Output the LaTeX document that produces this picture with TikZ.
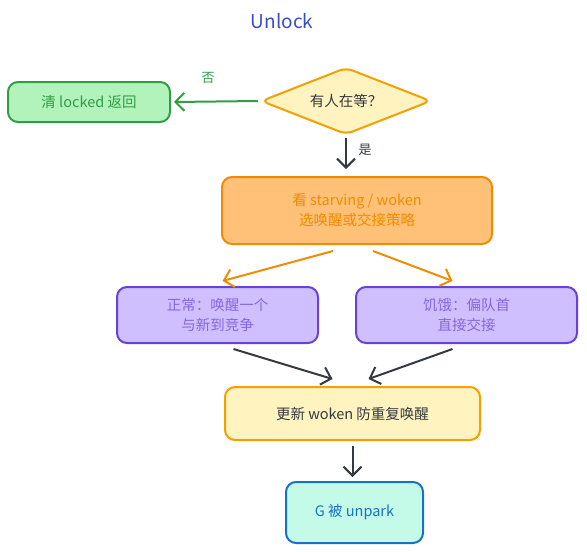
\documentclass[tikz,border=0pt]{standalone}
\usepackage{fontspec}
\setmainfont{Noto Sans CJK SC}
\usetikzlibrary{arrows.meta,positioning,calc,shapes.geometric}
\definecolor{ulInk}{HTML}{343A40}
\definecolor{ulTitle}{HTML}{364FC7}
\definecolor{ulGreenF}{HTML}{B2F2BB}
\definecolor{ulGreenD}{HTML}{2F9E44}
\definecolor{ulOrangeF}{HTML}{FFC078}
\definecolor{ulOrangeD}{HTML}{F08C00}
\definecolor{ulYellowF}{HTML}{FFF3BF}
\definecolor{ulYellowD}{HTML}{F59F00}
\definecolor{ulPurpleF}{HTML}{D0BFFF}
\definecolor{ulPurpleD}{HTML}{6741D9}
\definecolor{ulCyanF}{HTML}{C3FAE8}
\definecolor{ulBlueD}{HTML}{1971C2}

\begin{document}
\begin{tikzpicture}[
  x=1pt, y=-1pt,
  font=\fontsize{14.5}{20}\selectfont,
  box/.style={draw, line width=2pt, rounded corners=10pt, align=center, inner sep=0pt},
  okbox/.style={box, fill=ulGreenF, draw=ulGreenD, text=ulGreenD},
  pickbox/.style={box, fill=ulOrangeF, draw=ulOrangeD, text=ulOrangeD},
  modebox/.style={box, fill=ulPurpleF, draw=ulPurpleD, text=ulPurpleD!80},
  updbox/.style={box, fill=ulYellowF, draw=ulYellowD, text=ulInk},
  endbox/.style={box, fill=ulCyanF, draw=ulBlueD, text=ulBlueD},
  ar/.style={-{Straight Barb[length=9pt,width=18pt]}, line width=2pt, draw=ulInk},
  lbl/.style={font=\fontsize{13}{15}\selectfont}
]
\useasboundingbox (0,0) rectangle (587,552);

\node[text=ulTitle, font=\fontsize{19}{23}\selectfont] (title) at (282,21) {Unlock};

\node[diamond, draw=ulYellowD, fill=ulYellowF, line width=2pt, rounded corners=7pt,
      minimum width=170pt, minimum height=67pt, inner sep=0pt, aspect=2.5, text=ulInk] (wait) at (346,101) {有人在等？};
\node[okbox, minimum width=162pt, minimum height=40pt] (ret) at (89,102) {清 locked 返回};
\node[pickbox, minimum width=270pt, minimum height=67pt] (pick) at (357,210.5) {看 starving / woken\\选唤醒或交接策略};
\node[modebox, minimum width=201pt, minimum height=56pt] (norm) at (217.5,315) {正常：唤醒一个\\与新到竞争};
\node[modebox, minimum width=221pt, minimum height=56pt] (starv) at (466.5,315) {饥饿：偏队首\\直接交接};
\node[updbox, minimum width=255pt, minimum height=53pt] (upd) at (352.5,413.5) {更新 woken 防重复唤醒};
\node[endbox, minimum width=137pt, minimum height=61pt] (wake) at (354.5,512.5) {G 被 unpark};

% no / yes
\draw[ar, draw=ulGreenD] ([xshift=-2pt]wait.west) -- ([xshift=3pt]ret.east);
\node[lbl, text=ulGreenD] (no) at (208,78) {否};
\draw[ar] ([yshift=-2pt]wait.south) -- ([yshift=7pt]wait.south |- pick.north);
\node[lbl, text=ulInk] (yes) at (365,150) {是};

% strategy split
\draw[ar, draw=ulOrangeD] ([xshift=-24pt,yshift=-6pt]pick.south) -- ([xshift=5pt,yshift=5pt]norm.north);
\draw[ar, draw=ulOrangeD] ([xshift=16pt,yshift=-6pt]pick.south) -- ([xshift=-14pt,yshift=5pt]starv.north);

% merge
\draw[ar] ([xshift=16pt,yshift=-5pt]norm.south) -- ([xshift=-20pt,yshift=7pt]upd.north);
\draw[ar] ([xshift=-14pt,yshift=-5pt]starv.south) -- ([xshift=16pt,yshift=7pt]upd.north);
\draw[ar] ([yshift=-5pt]upd.south) -- ([yshift=4pt]upd.south |- wake.north);
\end{tikzpicture}
\end{document}
